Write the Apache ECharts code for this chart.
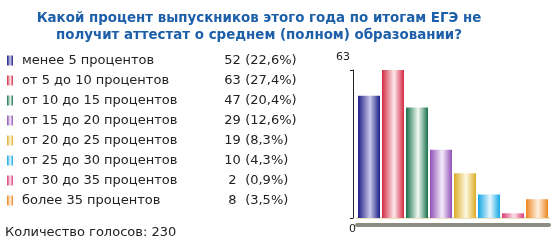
<!DOCTYPE html>
<html><head><meta charset="utf-8">
<script src="https://cdn.jsdelivr.net/npm/echarts@6/dist/echarts.min.js"></script>
<style>html,body{margin:0;padding:0;background:#fff}#c{width:558px;height:243px}</style>
</head><body><div id="c"></div>
<script>
var categories = ['менее 5 процентов','от 5 до 10 процентов','от 10 до 15 процентов','от 15 до 20 процентов','от 20 до 25 процентов','от 25 до 30 процентов','от 30 до 35 процентов','более 35 процентов'];
var values = [52, 63, 47, 29, 19, 10, 2, 8];
var percentLabels = ['22,6%','27,4%','20,4%','12,6%','8,3%','4,3%','0,9%','3,5%'];
var yTicks = [0, 63];
var totalVotes = 230;
var titleText = 'Какой процент выпускников этого года по итогам ЕГЭ не\nполучит аттестат о среднем (полном) образовании?';
var footerText = 'Количество голосов: ' + totalVotes;

var edge = ['#1c1c86','#d22a42','#17714b','#8f50b8','#dcac28','#12a6e2','#dc3a78','#ee8420'];
var mid  = ['#c8c8ea','#fdeaec','#f2faf4','#f4ecf9','#fff9e2','#e8f7fe','#fbe2ec','#fff2e2'];
function grad(i){
  return new echarts.graphic.LinearGradient(0,0,1,0,[
    {offset:0,color:edge[i]},{offset:0.55,color:mid[i]},{offset:1,color:edge[i]}]);
}
var FONT = 'DejaVu Sans';
var series = categories.map(function(name,i){
  return {
    name: name, type:'bar', stack:'all', barWidth:22, xAxisIndex:0,
    itemStyle:{color:grad(i)},
    data: values.map(function(v,j){return j===i? v : '-';}),
    animation:false
  };
});
var chart = echarts.init(document.getElementById('c'));
chart.setOption({
  animation:false,
  title:[
    {text:titleText, left:254, top:5, textAlign:'center',
     textStyle:{fontFamily:FONT, fontSize:13.4, fontWeight:'bold', color:'#1d5fa9', lineHeight:17}},
    {text:footerText, left:5, top:226, padding:0,
     textStyle:{fontFamily:FONT, fontSize:13, fontWeight:'normal', color:'#222'}}
  ],
  legend:{
    orient:'vertical', left:7, top:53, padding:0, icon:'rect', itemWidth:6, itemHeight:10, itemGap:5,
    selectedMode:false,
    data: categories,
    textStyle:{fontFamily:FONT, fontSize:13, color:'#222', lineHeight:15,
      rich:{
        n:{fontFamily:FONT,fontSize:13,color:'#222',width:202,padding:[0,0,0,4],lineHeight:15},
        v:{fontFamily:FONT,fontSize:13,color:'#222',width:17,align:'right',lineHeight:15},
        p:{fontFamily:FONT,fontSize:13,color:'#222',lineHeight:15}
      }},
    formatter:function(name){
      var i = categories.indexOf(name);
      return '{n|'+name+'}{v|'+values[i]+'}{p| ('+percentLabels[i]+')}';
    }
  },
  grid:{left:357, right:9, top:70, bottom:25},
  xAxis:[
    {type:'category', data:categories, axisLabel:{show:false}, axisTick:{show:false},
     offset:4, axisLine:{show:true, lineStyle:{color:'#eee6c2', width:2}}},
    {type:'category', data:categories, position:'bottom', axisLabel:{show:false}, axisTick:{show:false},
     offset:7, axisLine:{show:true, lineStyle:{color:'#8c8c82', width:4}}}
  ],
  yAxis:{type:'value', min:yTicks[0], max:yTicks[1], interval:yTicks[1]-yTicks[0], offset:4,
    axisLine:{show:true, lineStyle:{color:'#222', width:1}},
    axisTick:{show:true, length:3, lineStyle:{color:'#222'}},
    splitLine:{show:false},
    axisLabel:{margin:-3, fontFamily:FONT, fontSize:11, color:'#222',
      formatter:function(v){ return v===yTicks[1] ? '{t|'+v+'}' : '{b|'+v+'}'; },
      rich:{t:{fontFamily:FONT,fontSize:11,color:'#222',padding:[0,6,26,0]},
            b:{fontFamily:FONT,fontSize:11,color:'#222',padding:[22,0,0,0]}}}
  },
  series: series
});
</script></body></html>
